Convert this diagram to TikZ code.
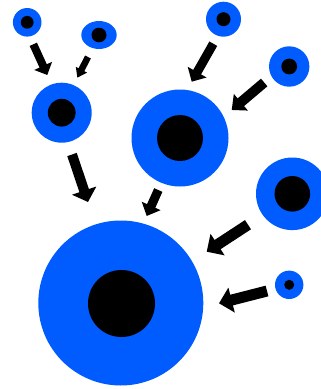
\documentclass[tikz,border=0pt]{standalone}
\usetikzlibrary{arrows.meta,shapes.geometric}
\definecolor{cellblue}{RGB}{0,92,255}
\tikzset{
  cell/.style={circle,fill=cellblue,inner sep=0pt,outer sep=0pt,minimum size=#1},
  oval/.style n args={2}{ellipse,fill=cellblue,inner sep=0pt,outer sep=0pt,minimum width=#1,minimum height=#2},
  nucleus/.style={fill=black},
  blockarrow/.style n args={3}{draw=black,line width=#1,line cap=butt,
     -{Triangle[width=#2,length=#3,fill=black]}}
}
\begin{document}
\begin{tikzpicture}[x=1pt,y=-1pt]
\useasboundingbox (0,0) rectangle (321,389);
% cells
\node[cell=28.6pt] (c1) at (27.2,22.3) {};
\node[oval={35.4pt}{28pt}] (c2) at (99,35) {};
\node[cell=60pt] (c3) at (61.7,112.7) {};
\node[cell=97pt] (c4) at (180,138) {};
\node[cell=35pt] (c5) at (223.5,19.2) {};
\node[cell=40.4pt] (c6) at (289.2,66.5) {};
\node[cell=72.6pt] (c7) at (292.3,193.8) {};
\node[cell=165pt] (c8) at (120.8,303) {};
\node[cell=28.4pt] (c9) at (289.2,284.8) {};
% nuclei
\fill[nucleus] (c1) circle (6.4pt);
\fill[nucleus] (c2) ellipse (7.5pt and 7.3pt);
\fill[nucleus] (c3) circle (13.9pt);
\fill[nucleus] (c4) circle (23pt);
\fill[nucleus] (c5) circle (7pt);
\fill[nucleus] (c6) circle (7.9pt);
\fill[nucleus] (c7) circle (17.8pt);
\fill[nucleus] ([xshift=0.7pt,yshift=-0.5pt]c8.center) circle (33.5pt);
\fill[nucleus] (c9) circle (5pt);
% arrow ends
\coordinate (a1s) at (33.3,44.3);  \coordinate (a1e) at (47.3,75);
\coordinate (a2s) at (88,57);      \coordinate (a2e) at (77.3,77.7);
\coordinate (a3s) at (72,154.5);   \coordinate (a3e) at (88,202);
\coordinate (a4s) at (213.3,43.7); \coordinate (a4e) at (191.7,81.7);
\coordinate (a5s) at (264.2,82.5); \coordinate (a5e) at (231.7,110);
\coordinate (a6s) at (158.3,190);  \coordinate (a6e) at (146.7,216);
\coordinate (a7s) at (248,224.7);  \coordinate (a7e) at (206.7,251.7);
\coordinate (a8s) at (267,291);    \coordinate (a8e) at (219,303.3);
% arrows
\draw[blockarrow={8pt}{19pt}{10pt}] (a1s) -- (a1e);
\draw[blockarrow={6.5pt}{12pt}{9pt}] (a2s) -- (a2e);
\draw[blockarrow={10pt}{25pt}{12pt}] (a3s) -- (a3e);
\draw[blockarrow={9pt}{21pt}{11pt}] (a4s) -- (a4e);
\draw[blockarrow={10pt}{21pt}{12pt}] (a5s) -- (a5e);
\draw[blockarrow={9pt}{20pt}{11pt}] (a6s) -- (a6e);
\draw[blockarrow={11pt}{25pt}{13pt}] (a7s) -- (a7e);
\draw[blockarrow={11pt}{25pt}{13pt}] (a8s) -- (a8e);
\end{tikzpicture}
\end{document}
